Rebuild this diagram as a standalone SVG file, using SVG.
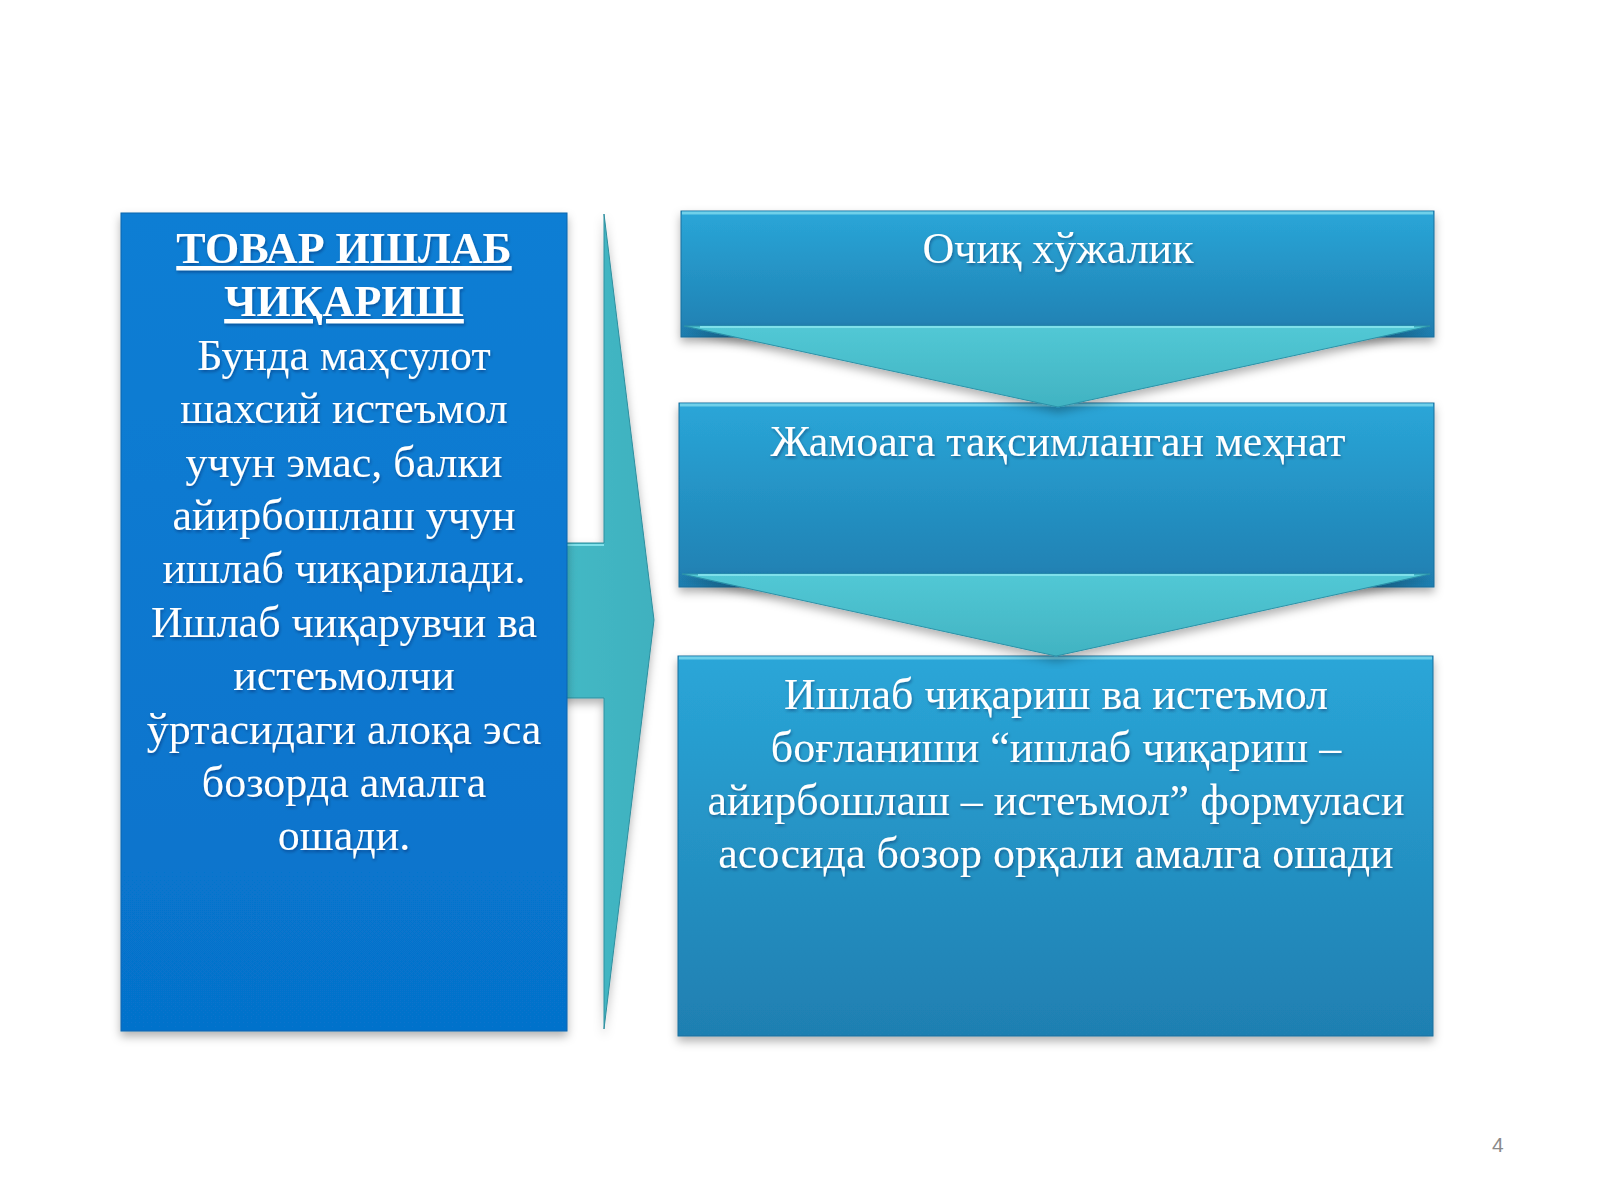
<svg xmlns="http://www.w3.org/2000/svg" width="1600" height="1200" viewBox="0 0 1600 1200">
<defs>
<style>
.t{font-family:"Liberation Serif","Times New Roman",serif;font-size:44px;fill:#ffffff;text-anchor:middle}
.b{font-weight:bold;text-decoration:underline}
.pg{font-family:"Liberation Sans",Arial,sans-serif;font-size:21px;fill:#8a8a8a}
</style>
<linearGradient id="gLeft" x1="0" y1="0" x2="0" y2="1">
<stop offset="0" stop-color="#0b7ed4"/>
<stop offset="1" stop-color="#0672cb"/>
</linearGradient>
<linearGradient id="gBox" x1="0" y1="0" x2="0" y2="1">
<stop offset="0" stop-color="#2aa6d8"/>
<stop offset="1" stop-color="#1f7fb1"/>
</linearGradient>
<linearGradient id="gTri" x1="0" y1="0" x2="0" y2="1">
<stop offset="0" stop-color="#52c8d5"/>
<stop offset="1" stop-color="#41b3c2"/>
</linearGradient>
<linearGradient id="gArrow" x1="0" y1="0" x2="1" y2="0">
<stop offset="0" stop-color="#44b9c5"/>
<stop offset="1" stop-color="#3fb1bf"/>
</linearGradient>
<filter id="sh" x="-10%" y="-10%" width="120%" height="125%">
<feDropShadow dx="0" dy="5" stdDeviation="5" flood-color="#000" flood-opacity="0.3"/>
</filter>
<filter id="ts" x="-5%" y="-20%" width="110%" height="140%">
<feDropShadow dx="1" dy="2" stdDeviation="1.5" flood-color="#003" flood-opacity="0.35"/>
</filter>
</defs>
<rect width="1600" height="1200" fill="#ffffff"/>

<g id="connectors">
<g id="arrow-right" filter="url(#sh)">
<polygon points="560,543 604,543 604,214 654,620 604,1029 604,698 560,698" fill="url(#gArrow)" stroke="#2f8f9f" stroke-width="1"/>
<line x1="566" y1="545" x2="604" y2="545" stroke="#7fe0ea" stroke-width="2"/>
</g>
</g>

<g id="left-box">
<rect x="121" y="213" width="446" height="818" fill="url(#gLeft)" stroke="#0a64ac" stroke-width="1" filter="url(#sh)"/>
<g filter="url(#ts)">
<text class="t b" x="344" y="263">ТОВАР ИШЛАБ</text>
<text class="t b" x="344" y="316">ЧИҚАРИШ</text>
<text class="t" x="344" y="370">Бунда маҳсулот</text>
<text class="t" x="344" y="423">шахсий истеъмол</text>
<text class="t" x="344" y="477">учун эмас, балки</text>
<text class="t" x="344" y="530">айирбошлаш учун</text>
<text class="t" x="344" y="583">ишлаб чиқарилади.</text>
<text class="t" x="344" y="637">Ишлаб чиқарувчи ва</text>
<text class="t" x="344" y="690">истеъмолчи</text>
<text class="t" x="344" y="744">ўртасидаги алоқа эса</text>
<text class="t" x="344" y="797">бозорда амалга</text>
<text class="t" x="344" y="850">ошади.</text>
</g>
</g>

<g id="box1">
<rect x="681" y="211" width="753" height="126" fill="url(#gBox)" stroke="#1a6f9c" stroke-width="1" filter="url(#sh)"/>
<line x1="682" y1="213" x2="1433" y2="213" stroke="#6fd0ea" stroke-width="3"/>
<text class="t" x="1058" y="263" filter="url(#ts)">Очиқ хўжалик</text>
</g>

<g id="box2">
<rect x="679" y="403" width="755" height="184" fill="url(#gBox)" stroke="#1a6f9c" stroke-width="1" filter="url(#sh)"/>
<line x1="680" y1="405" x2="1433" y2="405" stroke="#6fd0ea" stroke-width="3"/>
<text class="t" x="1058" y="456" filter="url(#ts)">Жамоага тақсимланган меҳнат</text>
</g>

<g id="box3">
<rect x="678" y="656" width="755" height="380" fill="url(#gBox)" stroke="#1a6f9c" stroke-width="1" filter="url(#sh)"/>
<line x1="679" y1="658" x2="1432" y2="658" stroke="#6fd0ea" stroke-width="3"/>
<g filter="url(#ts)">
<text class="t" x="1056" y="709">Ишлаб чиқариш ва истеъмол</text>
<text class="t" x="1056" y="762">боғланиши “ишлаб чиқариш –</text>
<text class="t" x="1056" y="815">айирбошлаш – истеъмол” формуласи</text>
<text class="t" x="1056" y="868">асосида бозор орқали амалга ошади</text>
</g>
</g>

<g id="down-arrows">
<polygon id="down1" points="684,326 1430,326 1058,407" fill="url(#gTri)" stroke="#2c92a8" stroke-width="1" filter="url(#sh)"/>
<line x1="700" y1="327" x2="1414" y2="327" stroke="#7fe0ea" stroke-width="2"/>
<polygon id="down2" points="682,574 1430,574 1056,656" fill="url(#gTri)" stroke="#2c92a8" stroke-width="1" filter="url(#sh)"/>
<line x1="698" y1="575" x2="1414" y2="575" stroke="#7fe0ea" stroke-width="2"/>
</g>

<text class="pg" x="1492" y="1152">4</text>
</svg>
